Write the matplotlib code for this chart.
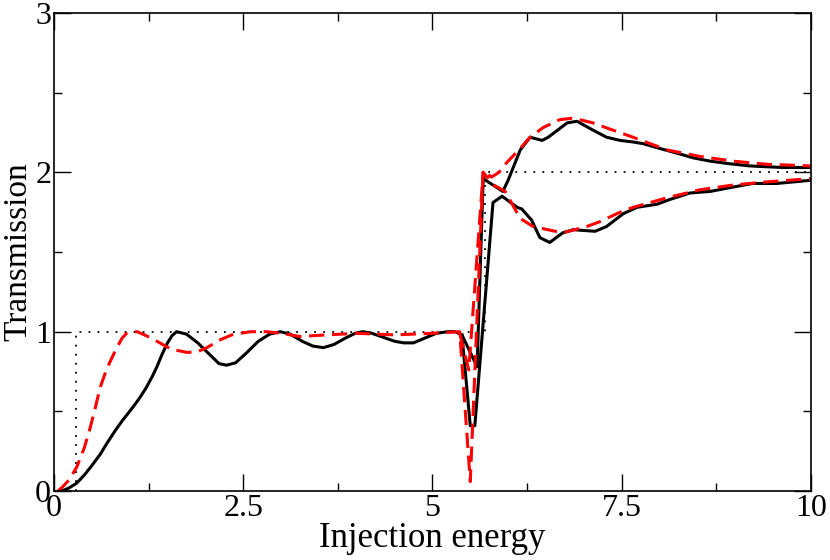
import matplotlib
matplotlib.use("Agg")
import matplotlib.pyplot as plt
from matplotlib.ticker import MultipleLocator

plt.rcParams['font.family'] = ['Liberation Serif', 'DejaVu Serif']

# ideal (step) transmission
step_x = [0.29, 0.29, 5.69, 5.69, 10.0]
step_y = [0.0, 1.0, 1.0, 2.0, 2.0]

# black solid, first branch (low energy + upper branch)
black_a_x = [0.1, 0.2, 0.3, 0.4, 0.5, 0.61, 0.7, 0.81, 0.9, 1.0, 1.08, 1.14, 1.22, 1.3,
             1.36, 1.43, 1.5, 1.56, 1.62, 1.75, 1.9, 2.05, 2.18, 2.28, 2.4, 2.55,
             2.7, 2.85, 2.99, 3.12, 3.28, 3.42, 3.56, 3.7, 3.85, 3.98, 4.08, 4.2,
             4.35, 4.5, 4.62, 4.75, 4.9, 5.05, 5.2, 5.3, 5.39, 5.59, 5.67, 5.80,
             5.93, 6.0, 6.16, 6.29, 6.45, 6.53, 6.78, 6.91, 7.1, 7.30, 7.48, 7.65,
             7.78, 8.0, 8.23, 8.45, 8.67, 8.9, 9.19, 9.4, 9.63, 10.0]
black_a_y = [0.0, 0.02, 0.05, 0.10, 0.16, 0.23, 0.30, 0.38, 0.44, 0.50, 0.55, 0.59, 0.65, 0.72,
             0.78, 0.86, 0.93, 0.975, 1.0, 0.985, 0.93, 0.86, 0.80, 0.79, 0.805, 0.87,
             0.94, 0.985, 1.0, 0.985, 0.94, 0.91, 0.90, 0.92, 0.96, 0.99, 1.0, 0.99,
             0.965, 0.94, 0.93, 0.93, 0.96, 0.99, 1.0, 1.0, 0.98, 0.78, 1.96, 1.92,
             1.88, 1.95, 2.14, 2.22, 2.20, 2.22, 2.31, 2.32, 2.27, 2.22, 2.20, 2.19,
             2.18, 2.15, 2.12, 2.09, 2.07, 2.055, 2.04, 2.035, 2.03, 2.03]

# black solid, second branch
black_b_x = [5.39, 5.50, 5.56, 5.80, 5.92, 6.12, 6.18, 6.31, 6.42, 6.55, 6.72, 6.86,
             7.0, 7.15, 7.30, 7.52, 7.70, 7.97, 8.14, 8.40, 8.67, 8.89, 9.23, 9.55, 10.0]
black_b_y = [0.98, 0.41, 0.41, 1.81, 1.85, 1.78, 1.77, 1.70, 1.59, 1.56, 1.62, 1.64,
             1.635, 1.63, 1.66, 1.74, 1.78, 1.80, 1.83, 1.87, 1.88, 1.90, 1.93, 1.93, 1.95]

# red dashed, first branch (low energy + upper branch)
red_a_x = [0.05, 0.1, 0.2, 0.3, 0.4, 0.48, 0.55, 0.61, 0.7, 0.81, 0.9, 0.96, 1.03, 1.10,
           1.22, 1.36, 1.55, 1.76, 1.9, 2.02, 2.2, 2.35, 2.46, 2.6, 2.81, 3.0, 3.25,
           3.6, 4.0, 4.5, 5.0, 5.36, 5.50, 5.67, 5.78, 5.88, 5.96, 6.16, 6.29, 6.46,
           6.68, 6.86, 7.12, 7.35, 7.65, 8.10, 8.53, 8.97, 9.42, 10.0]
red_a_y = [0.0, 0.02, 0.07, 0.15, 0.27, 0.40, 0.53, 0.65, 0.77, 0.88, 0.96, 0.99, 1.0, 1.0,
           0.975, 0.94, 0.89, 0.87, 0.875, 0.90, 0.95, 0.98, 0.99, 1.0, 1.0, 0.99, 0.97,
           0.98, 0.99, 0.98, 0.99, 1.0, 0.06, 2.01, 1.97, 2.0, 2.05, 2.15, 2.22, 2.28,
           2.33, 2.34, 2.31, 2.27, 2.22, 2.14, 2.10, 2.07, 2.05, 2.04]

# red dashed, second branch
red_b_x = [5.36, 5.48, 5.67, 5.81, 5.96, 6.16, 6.33, 6.72, 7.04, 7.21, 7.48, 7.65,
           8.10, 8.53, 8.97, 9.42, 10.0]
red_b_y = [0.99, 0.76, 2.0, 1.92, 1.88, 1.71, 1.66, 1.62, 1.66, 1.69, 1.75, 1.78,
           1.84, 1.89, 1.92, 1.94, 1.96]

fig = plt.figure(figsize=(8.3, 5.6), dpi=100)
ax = fig.add_axes([0.065, 0.123, 0.912, 0.854])

ax.plot(step_x, step_y, color='black', lw=1.3, linestyle=(0, (1, 4)))
ax.plot(black_a_x, black_a_y, color='black', lw=2.2)
ax.plot(black_b_x, black_b_y, color='black', lw=2.2)
ax.plot(red_a_x, red_a_y, color='red', lw=2.2, dashes=(5, 2.5))
ax.plot(red_b_x, red_b_y, color='red', lw=2.2, dashes=(5, 2.5))

ax.set_xlim(0, 10)
ax.set_ylim(0, 3)
ax.xaxis.set_major_locator(MultipleLocator(2.5))
ax.xaxis.set_minor_locator(MultipleLocator(1.25))
ax.yaxis.set_major_locator(MultipleLocator(1))
ax.yaxis.set_minor_locator(MultipleLocator(0.5))
ax.xaxis.set_major_formatter(plt.FuncFormatter(lambda v, p: '%g' % v))
ax.yaxis.set_major_formatter(plt.FuncFormatter(lambda v, p: '%g' % v))

ax.tick_params(which='both', direction='in', top=True, right=True, labelsize=23)
ax.tick_params(axis='x', pad=2)
ax.tick_params(axis='y', pad=2)
ax.tick_params(which='major', length=12, width=1)
ax.tick_params(which='minor', length=6, width=1)
for s in ax.spines.values():
    s.set_linewidth(1.2)

ax.set_xlabel('Injection energy', fontsize=25, labelpad=-1)
ax.set_ylabel('Transmission', fontsize=24, labelpad=1)

fig.savefig('out.png', dpi=100)
